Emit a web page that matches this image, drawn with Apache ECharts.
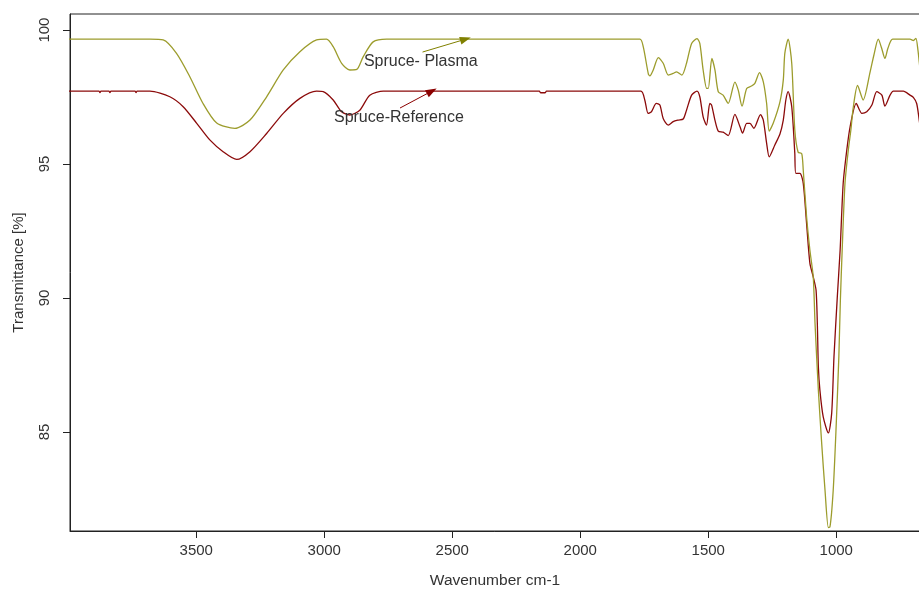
<!DOCTYPE html>
<html>
<head>
<meta charset="utf-8">
<script src="https://cdn.jsdelivr.net/npm/echarts@6/dist/echarts.min.js"></script>
<style>html,body{margin:0;padding:0;background:#fff;}#c{width:919px;height:590px;}</style>
</head>
<body>
<div id="c"></div>
<script>
const xTicks = [3500, 3000, 2500, 2000, 1500, 1000];
const yTicks = [85, 90, 95, 100];

const plasmaWn = [4000,3681,3629,3577,3525,3474,3420,3349,3290,3225,3160,3095,3030,2991,2965,2932,2900,2873,2848,2809,2756,
  1767,1754,1734,1728,1715,1695,1676,1656,1637,1624,1603,1585,1565,1544,1533,1520,1506,1500,1486,1474,1461,1442,1422,1396,1383,1368,1350,1331,1318,1300,1285,1272,1262,1246,1220,1207,1201,1188,1174,1162,1149,1135,1129,1116,1103,1090,1083,1070,1057,1044,1031,1025,1012,1000,990,984,977,966,953,943,934,917,895,868,853,836,823,810,798,780,712,699,689,681,676,670];
const plasmaT = [99.66,99.66,99.63,99.13,98.26,97.27,96.53,96.33,96.64,97.51,98.51,99.19,99.63,99.66,99.38,98.76,98.51,98.53,99.00,99.56,99.66,
  99.66,99.38,98.36,98.29,98.51,98.97,98.76,98.32,98.38,98.44,98.32,98.76,99.50,99.68,99.50,98.51,97.82,97.82,98.94,98.51,97.70,97.57,97.26,98.06,97.76,97.16,97.82,97.91,98.01,98.41,98.07,97.26,96.23,96.53,97.32,98.13,99.13,99.66,98.76,96.27,95.44,95.39,94.77,93.03,91.78,90.79,89.05,86.56,84.57,82.82,81.43,81.44,82.82,85.32,87.80,89.92,91.78,94.28,95.52,96.27,97.09,97.93,97.39,98.43,99.07,99.66,99.33,98.94,99.33,99.66,99.66,99.61,99.69,99.25,98.81,98.3];

const refWn = [4000,3880,3876,3872,3841,3837,3833,3739,3735,3731,3681,3603,3551,3498,3446,3395,3342,3290,3225,3160,3095,3030,3004,2965,2932,2900,2861,2822,2769,2160,2155,2137,2132,
  1763,1748,1735,1722,1703,1689,1676,1656,1637,1617,1598,1585,1565,1544,1533,1520,1507,1494,1487,1474,1461,1442,1422,1396,1376,1366,1350,1337,1322,1296,1285,1272,1262,1240,1220,1207,1197,1188,1174,1162,1158,1142,1129,1116,1103,1090,1079,1074,1070,1064,1051,1031,1018,1009,996,985,973,959,946,922,900,881,861,842,822,810,790,777,738,712,699,686,676,670];
const refT = [97.72,97.72,97.67,97.72,97.72,97.67,97.72,97.72,97.67,97.72,97.72,97.51,97.14,96.52,95.89,95.46,95.17,95.46,96.14,96.89,97.45,97.72,97.70,97.39,96.95,96.83,97.01,97.57,97.72,97.72,97.66,97.66,97.72,
  97.72,97.39,96.89,96.95,97.26,97.20,96.70,96.45,96.58,96.64,96.68,97.01,97.57,97.72,97.51,96.76,96.45,97.26,97.20,96.64,96.23,96.19,96.06,96.85,96.39,96.15,96.52,96.52,96.33,96.84,96.64,95.77,95.27,95.71,96.12,96.64,97.39,97.70,97.14,95.40,94.65,94.65,94.28,92.78,91.29,90.79,90.29,89.05,87.43,86.56,85.56,84.96,85.69,87.80,90.04,91.78,94.28,95.52,96.39,97.26,96.89,96.95,97.20,97.70,97.57,97.16,97.57,97.72,97.72,97.57,97.49,97.26,96.64,96.2];

const seriesNames = ['Spruce- Plasma', 'Spruce-Reference'];
// annotation anchors: [label position], [arrow start], [arrow end] in data units
const plasmaLabelAt = [2845, 98.84];
const plasmaArrow = [[2616, 99.18], [2448, 99.66]];
const refLabelAt = [2962, 96.75];
const refArrow = [[2704, 97.09], [2580, 97.72]];

const zip = (a, b) => a.map((v, i) => [v, b[i]]);
const plasmaColor = '#9c9c2c';
const refColor = '#8b0a0a';
const txt = '#333';
const font = 'Liberation Sans, Arial, sans-serif';

function annot(labelAt, arrow, text, arrowColor) {
  return {
    markLine: {
      silent: true, animation: false,
      symbol: ['none', 'triangle'], symbolSize: [8, 11],
      lineStyle: { color: arrowColor, width: 1, type: 'solid' },
      label: { show: false },
      data: [[{ coord: arrow[0] }, { coord: arrow[1] }]]
    },
    markPoint: {
      silent: true, animation: false,
      symbol: 'circle', symbolSize: 0,
      data: [{ coord: labelAt, value: text }],
      label: { show: true, position: 'right', distance: 0, formatter: text,
        color: txt, fontSize: 16, fontFamily: font }
    }
  };
}

const chart = echarts.init(document.getElementById('c'), null, { renderer: 'canvas' });
chart.setOption({
  animation: false,
  backgroundColor: '#fff',
  grid: { left: 70, top: 14, right: -1, bottom: 59, show: true, borderColor: '#222', borderWidth: 1,
    containLabel: false, outerBoundsMode: 'none' },
  xAxis: {
    type: 'value', inverse: true, min: 673, max: 3993,
    name: 'Wavenumber cm-1', nameLocation: 'middle', nameGap: 42,
    nameTextStyle: { color: txt, fontSize: 15.5, fontFamily: font },
    axisLine: { show: true, onZero: false, lineStyle: { color: '#222' } },
    axisTick: { show: true, length: 7, customValues: xTicks, lineStyle: { color: '#222' } },
    axisLabel: { customValues: xTicks, formatter: v => String(v), color: txt, fontSize: 15, fontFamily: font, margin: 12 },
    splitLine: { show: false }
  },
  yAxis: {
    type: 'value', min: 81.3, max: 100.6,
    name: 'Transmittance [%]', nameLocation: 'middle', nameGap: 44, nameRotate: 90,
    nameTextStyle: { color: txt, fontSize: 15, fontFamily: font },
    axisLine: { show: true, onZero: false, lineStyle: { color: '#222' } },
    axisTick: { show: true, length: 7, customValues: yTicks, lineStyle: { color: '#222' } },
    axisLabel: { customValues: yTicks, formatter: v => String(v), rotate: 90, color: txt, fontSize: 15, fontFamily: font, margin: 18 },
    splitLine: { show: false }
  },
  series: [
    Object.assign({
      name: seriesNames[1], type: 'line', data: zip(refWn, refT), showSymbol: false, symbol: 'none',
      smooth: 0.25, lineStyle: { color: refColor, width: 1.3 }, itemStyle: { color: refColor }, z: 2
    }, annot(refLabelAt, refArrow, seriesNames[1], '#8b0000')),
    Object.assign({
      name: seriesNames[0], type: 'line', data: zip(plasmaWn, plasmaT), showSymbol: false, symbol: 'none',
      smooth: 0.25, lineStyle: { color: plasmaColor, width: 1.3 }, itemStyle: { color: plasmaColor }, z: 3
    }, annot(plasmaLabelAt, plasmaArrow, seriesNames[0], '#808000'))
  ]
});
</script>
</body>
</html>
